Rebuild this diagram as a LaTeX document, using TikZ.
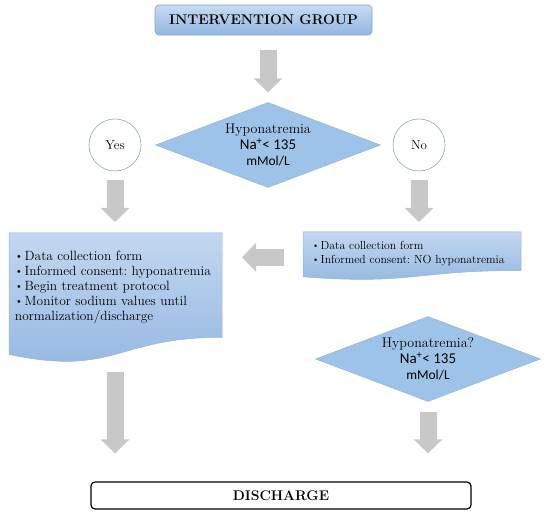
\documentclass[tikz,border=0pt]{standalone}
\usepackage{fontspec}
\usepackage{graphicx}
\newfontfamily\calibrifont{Carlito}
\usetikzlibrary{shapes.geometric,arrows.meta,backgrounds}
\frenchspacing

\definecolor{boxtop}{HTML}{C8DBF2}
\definecolor{boxbot}{HTML}{93B6E0}
\definecolor{boxline}{HTML}{7FA3CF}
\definecolor{diafill}{HTML}{9EC3E8}
\definecolor{ringline}{HTML}{8FA9BF}
\definecolor{arrowgray}{HTML}{C8C8C8}

% small bullet in front of each item
\newcommand\dotmark{\raisebox{.1ex}{\scalebox{.8}{\textbullet}}\hspace{1.5pt}}
% wavy lower edge of a document box, #1 node, #2 full height
\newcommand\docwave[2]{%
  \path[docfill] (#1.north west) -- (#1.north east) -- ([yshift=-.802*#2]#1.north east)
    .. controls ([yshift=-.802*#2]#1.north) and ([yshift=-1.1075*#2]#1.north) .. ([yshift=-.934*#2]#1.north west) -- cycle;}

\begin{document}
\begin{tikzpicture}[x=1pt, y=-1pt,
    titlebox/.style={rectangle, rounded corners=4pt, draw=boxline, line width=.6pt, top color=boxtop, bottom color=boxbot, minimum width=217pt, minimum height=30pt, font=\fontsize{14}{16}\selectfont\bfseries},
    decision/.style={diamond, aspect=2.6, minimum width=225pt, minimum height=85pt, inner sep=0pt, fill=diafill, draw=diafill!90!black, line width=.4pt, align=center, font=\fontsize{14}{16}\selectfont},
    answer/.style={circle, draw=ringline, line width=.6pt, fill=white, minimum size=52pt, inner sep=0pt, font=\fontsize{13}{15}\selectfont},
    docbox/.style={rectangle, anchor=north west, outer sep=0pt, align=left},
    docfill/.style={draw=boxline!80, line width=.5pt, top color=boxtop!90!boxbot, bottom color=boxbot},
    endbox/.style={rectangle, rounded corners=4pt, draw=black, line width=1.2pt, fill=white, minimum width=380pt, minimum height=27pt, font=\fontsize{14}{16}\selectfont\bfseries},
    bigarrow/.style={line width=17pt, draw=arrowgray, -{Triangle[width=28pt,length=14pt]}}]
    \useasboundingbox (0,0) rectangle (550,516);
    % Start
    \node[titlebox] (group) at (263.5,20) {INTERVENTION GROUP};
    % First check
    \node[decision] (check1) at (268,145) {Hyponatremia\\{\calibrifont\fontsize{15}{16}\selectfont Na\textsuperscript{+}< 135}\\{\calibrifont\fontsize{13.5}{16}\selectfont mMol/L}};
    \foreach \n/\t/\x in {yes/Yes/115, no/No/419} \node[answer] (\n) at (\x,145) {\t};
    % Documents
    \node[docbox, text width=201pt, inner xsep=6pt, inner ysep=18pt, font=\fontsize{13.4}{15}\selectfont] (formYes) at (9,233) {\dotmark Data collection form\\\dotmark Informed consent: hyponatremia\\\dotmark Begin treatment protocol\\\dotmark Monitor sodium values until\\normalization/discharge};
    \node[docbox, text width=200pt, inner xsep=9pt, inner ysep=9pt, font=\fontsize{11.7}{14}\selectfont] (formNo) at (303,232) {\dotmark Data collection form\\\dotmark Informed consent: NO hyponatremia};
    \begin{scope}[on background layer]
        \docwave{formYes}{130pt}
        \docwave{formNo}{48pt}
    \end{scope}
    % Second check
    \node[decision] (check2) at (428,359) {Hyponatremia?\\{\calibrifont\fontsize{15}{16}\selectfont Na\textsuperscript{+}< 135}\\{\calibrifont\fontsize{13.5}{16}\selectfont mMol/L}};
    % End
    \node[endbox] (discharge) at (281,495.5) {DISCHARGE};
    % Block arrows
    \draw[bigarrow, shorten <=15pt, shorten >=10pt] (check1.north |- group.south) -- (check1.north);
    \draw[bigarrow, shorten <=9pt, shorten >=11pt] (yes.south) -- (yes.south |- formYes.north);
    \draw[bigarrow, shorten <=9pt, shorten >=10pt] (no.south) -- (no.south |- formNo.north);
    \draw[bigarrow, shorten <=19pt, shorten >=20pt] ([yshift=-4pt]formNo.west) -- ([yshift=-4pt]formNo.west -| formYes.east);
    \draw[bigarrow, shorten <=139pt, shorten >=28pt] (yes.south |- formYes.north) -- (yes.south |- discharge.north);
    \draw[bigarrow, shorten <=10pt, shorten >=28pt] (check2.south) -- (check2.south |- discharge.north);
\end{tikzpicture}
\end{document}
